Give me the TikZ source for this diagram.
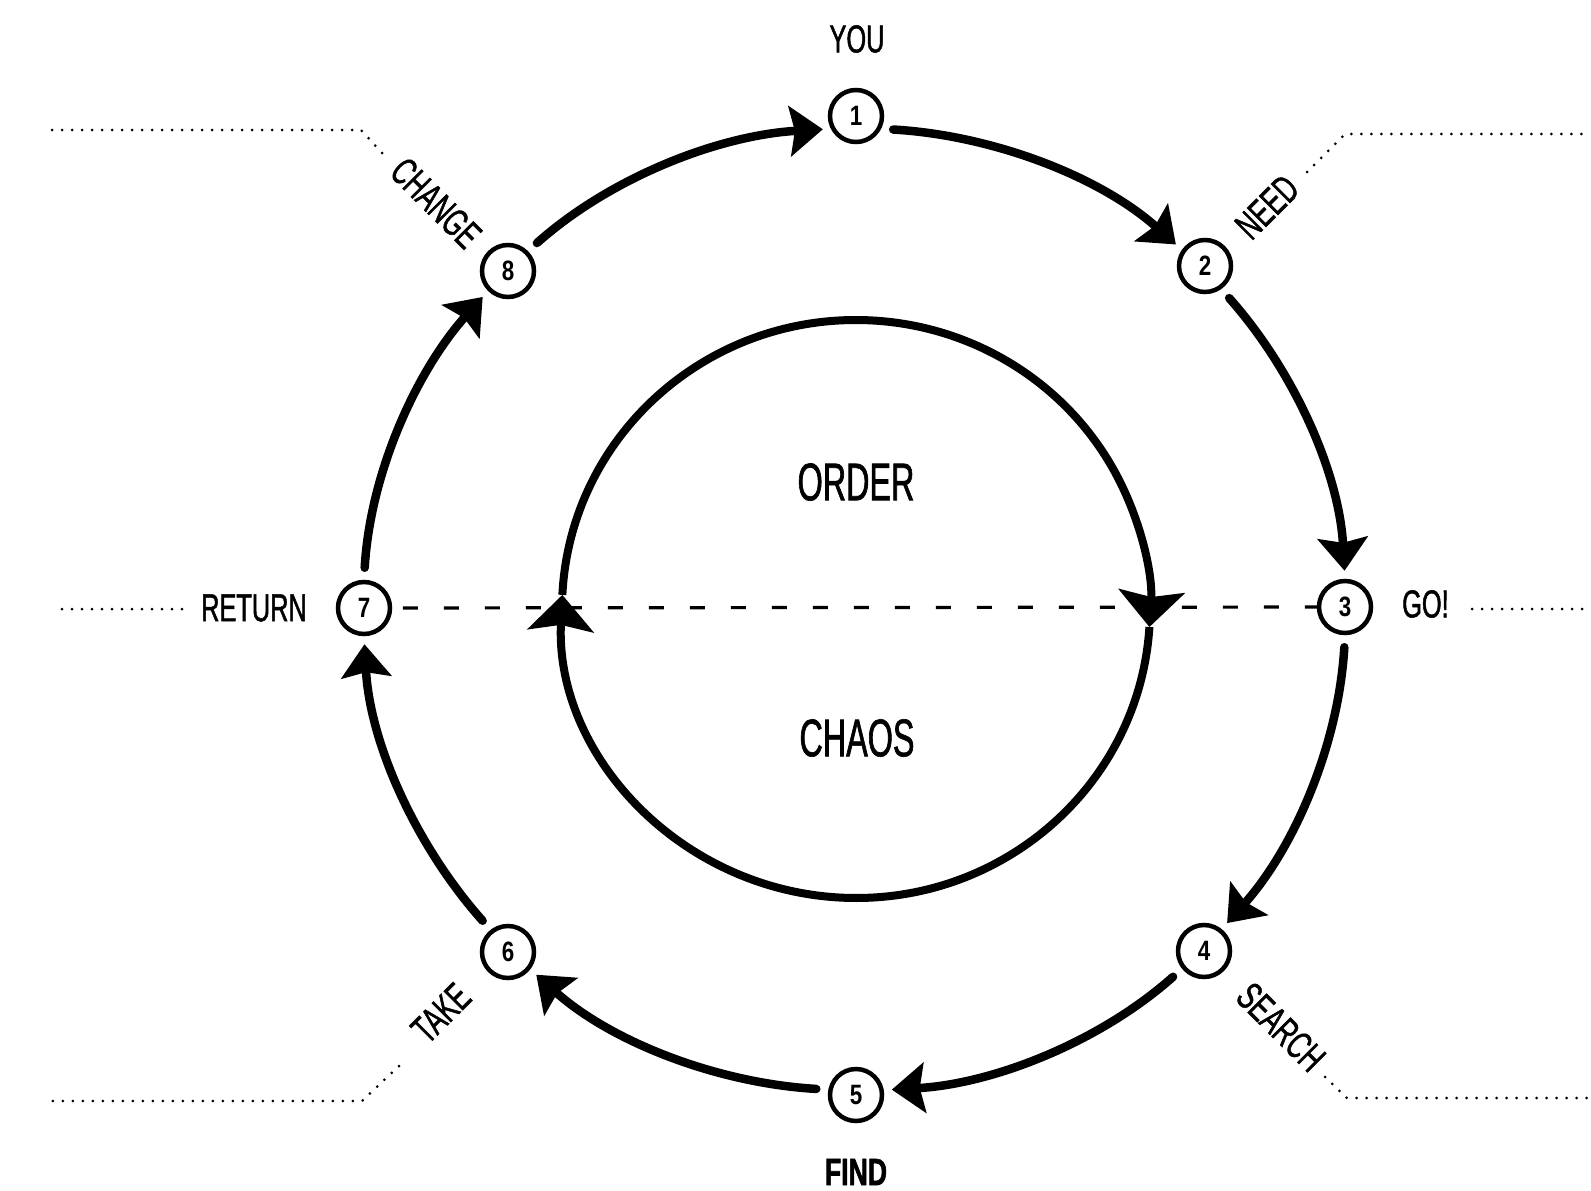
\documentclass[tikz,border=0pt]{standalone}
\usepackage{fontspec}
\setmainfont{Liberation Sans}[FakeStretch=0.65, FakeBold=1.2]
\newfontfamily\bigfont{Liberation Sans}[FakeStretch=0.61, FakeBold=1.2]
\newfontfamily\numfont{Liberation Sans}[FakeStretch=0.8]
\newfontfamily\findfont{Liberation Sans}[FakeStretch=0.7, FakeBold=1.5]
\usetikzlibrary{arrows.meta}
\begin{document}
\begin{tikzpicture}[x=1pt,y=1pt,
  num/.style={circle, draw, line width=4.5pt, minimum size=52pt, inner sep=0pt,
    font=\numfont\bfseries\fontsize{28}{28}\selectfont},
  lbl/.style={inner sep=0pt, font=\fontsize{39}{39}\selectfont},
  boldlbl/.style={inner sep=0pt, font=\findfont\bfseries\fontsize{38}{38}\selectfont},
  big/.style={inner sep=0pt, font=\bigfont\fontsize{53}{53}\selectfont},
  flow/.style={line width=8.5pt, line cap=round,
    -{Stealth[length=33pt,width=50pt,inset=5pt]},
    shorten <=12pt, shorten >=8pt, looseness=0.876},
  cyc/.style={line width=8pt, -{Stealth[length=36pt,width=66pt,inset=6pt]}},
  dots/.style={line width=3pt, line cap=round, dash pattern=on 0pt off 10pt},
  axisline/.style={line width=3.2pt, dash pattern=on 15pt off 26pt, dash phase=3pt}
]
\useasboundingbox (0,0) rectangle (1591,-1191);

% ring nodes
\node[num] (n1) at (856,-116) {1};
\node[num] (n2) at (1205,-266) {2};
\node[num] (n3) at (1345,-607) {3};
\node[num] (n4) at (1204,-951) {4};
\node[num] (n5) at (856,-1095) {5};
\node[num] (n6) at (508,-952) {6};
\node[num] (n7) at (364,-608) {7};
\node[num] (n8) at (508,-271) {8};

% labels
\node[lbl] (you) at (857,-39) {YOU};
\node[boldlbl] (find) at (856,-1172) {FIND};
\node[lbl] (ret) at (254,-608) {RETURN};
\node[lbl, anchor=west] (go) at (1402,-604) {GO!};
\node[lbl, rotate=-45] (chg) at (436,-203) {CHANGE};
\node[lbl, rotate=45] (need) at (1267,-207) {NEED};
\node[lbl, rotate=-45] (srch) at (1281,-1027) {SEARCH};
\node[lbl, rotate=45] (take) at (441,-1013) {TAKE};
\node[big] (order) at (856,-482) {ORDER};
\node[big] (chaos) at (857,-738) {CHAOS};

% outer cycle
\draw[flow] (n1.-27.7) to[out=-3.3, in=138.3] (n2.145.3);
\draw[flow] (n2.-55.3) to[out=-48.3, in=93.3] (n3.90);
\draw[flow] (n3.-90) to[out=-93.3, in=48.3] (n4.51.2);
\draw[flow] (n4.-141.2) to[out=-138.3, in=3.3] (n5.10.3);
\draw[flow] (n5.169.7) to[out=176.7, in=-41.7] (n6.-38.8);
\draw[flow] (n6.128.8) to[out=131.7, in=-86.7] (n7.-90);
\draw[flow] (n7.90) to[out=86.7, in=228.3] (n8.225);
\draw[flow] (n8.45) to[out=41.7, in=183.3] (n1.207.7);

% horizon
\draw[axisline] (n3) -- (n7);

% inner cycle
\coordinate (C) at (856,-609);
\draw[cyc] (C) ++(-3.57:294 and 289) arc[start angle=-3.57, end angle=-182.8, x radius=294, y radius=289];
\draw[cyc] (C) ++(177.2:294 and 289) arc[start angle=177.2, end angle=-3.57, x radius=294, y radius=289];

% leader coordinates
\coordinate (tl0) at (382,-153);
\coordinate (tl1) at (361,-130);
\coordinate (tl2) at (52,-130);
\coordinate (tr0) at (1307,-172);
\coordinate (tr1) at (1345,-134);
\coordinate (tr2) at (1591,-134);
\coordinate (br0) at (1325,-1077);
\coordinate (br1) at (1347,-1098);
\coordinate (br2) at (1591,-1098);
\coordinate (bl0) at (399,-1066);
\coordinate (bl1) at (362,-1101);
\coordinate (bl2) at (52,-1101);
\coordinate (ml0) at (182,-609);
\coordinate (ml1) at (57,-609);
\coordinate (mr0) at (1472,-609);
\coordinate (mr1) at (1591,-609);

\draw[dots] (tl0) -- (tl1) -- (tl2);
\draw[dots] (tr0) -- (tr1) -- (tr2);
\draw[dots] (br0) -- (br1) -- (br2);
\draw[dots] (bl0) -- (bl1) -- (bl2);
\draw[dots] (ml0) -- (ml1);
\draw[dots] (mr0) -- (mr1);
\end{tikzpicture}
\end{document}
